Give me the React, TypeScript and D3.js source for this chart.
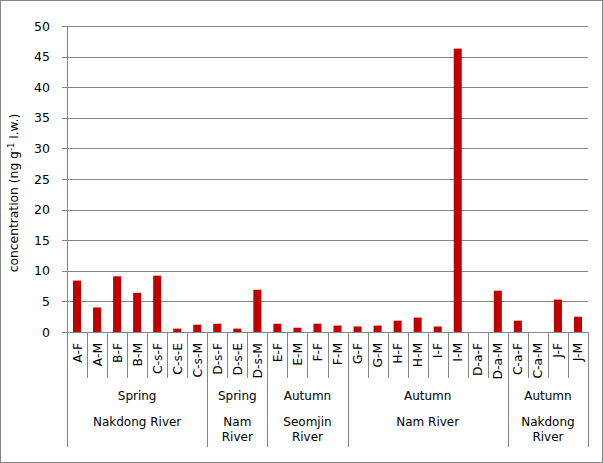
import { useEffect, useRef } from "react";
import * as d3 from "d3";

// data
const categories = [
  "A-F", "A-M", "B-F", "B-M", "C-s-F", "C-s-E", "C-s-M",
  "D-s-F", "D-s-E", "D-s-M",
  "E-F", "E-M", "F-F", "F-M",
  "G-F", "G-M", "H-F", "H-M", "I-F", "I-M", "D-a-F", "D-a-M",
  "C-a-F", "C-a-M", "J-F", "J-M",
];
const values = [
  8.4, 4.0, 9.1, 6.4, 9.2, 0.55, 1.2,
  1.35, 0.55, 6.9,
  1.35, 0.7, 1.35, 1.05,
  0.9, 1.05, 1.85, 2.35, 0.9, 46.3, 0, 6.75,
  1.85, 0, 5.3, 2.5,
];
const groupSizes = [7, 3, 4, 8, 4];
const groupSeasons = ["Spring", "Spring", "Autumn", "Autumn", "Autumn"];
const groupRivers = [
  ["Nakdong River"],
  ["Nam", "River"],
  ["Seomjin", "River"],
  ["Nam River"],
  ["Nakdong", "River"],
];
const yTicks = [0, 5, 10, 15, 20, 25, 30, 35, 40, 45, 50];

const W = 603;
const H = 463;
const FONT = "Verdana, 'DejaVu Sans', sans-serif";
const GRID = "#868686";

export default function App() {
  const ref = useRef<SVGSVGElement>(null);

  useEffect(() => {
    if (!ref.current) return;
    const svg = d3.select(ref.current);
    svg.selectAll("*").remove();

    const m = { top: 26, right: 15, bottom: 131, left: 67 };
    const w = W - m.left - m.right;
    const h = H - m.top - m.bottom;

    const x = d3.scaleBand().domain(categories).range([0, w]).paddingInner(0.6).paddingOuter(0.3);
    const y = d3.scaleLinear().domain([0, 50]).range([h, 0]);
    const step = x.step();

    // outer frame
    svg.append("rect")
      .attr("x", 0.5).attr("y", 0.5)
      .attr("width", W - 1).attr("height", H - 1)
      .attr("fill", "#fff").attr("stroke", GRID);

    const g = svg.append("g").attr("transform", `translate(${m.left},${m.top})`);

    // grid + y axis
    g.append("g")
      .call(d3.axisLeft(y).tickValues(yTicks).tickSize(-w).tickFormat(() => ""))
      .call((a) => {
        a.select(".domain").remove();
        a.selectAll("line").attr("stroke", GRID).attr("shape-rendering", "crispEdges");
      });
    g.append("g")
      .call(d3.axisLeft(y).tickValues(yTicks).tickSize(5).tickPadding(12))
      .call((a) => {
        a.select(".domain").attr("stroke", GRID).attr("shape-rendering", "crispEdges");
        a.selectAll("line").attr("stroke", GRID).attr("shape-rendering", "crispEdges");
        a.selectAll("text")
          .attr("font-size", 12.5)
          .attr("font-family", FONT)
          .attr("fill", "#000");
      });

    // y title
    const title = g.append("text")
      .attr("transform", `translate(-49,${h / 2 + 14}) rotate(-90)`)
      .attr("text-anchor", "middle")
      .attr("font-size", 12.3)
      .attr("font-family", FONT)
      .attr("fill", "#000");
    title.append("tspan").text("concentration  (ng g");
    title.append("tspan").attr("dy", -4).attr("font-size", 8.5).text("-1");
    title.append("tspan").attr("dy", 4).text(" l.w.)");

    // bars
    g.selectAll("rect.bar")
      .data(categories)
      .join("rect")
      .attr("class", "bar")
      .attr("x", (d) => x(d)!)
      .attr("y", (_, i) => y(values[i]))
      .attr("width", x.bandwidth())
      .attr("height", (_, i) => h - y(values[i]))
      .attr("fill", "#C00000");

    // x baseline
    g.append("line")
      .attr("x1", 0).attr("x2", w)
      .attr("y1", h + 0.5).attr("y2", h + 0.5)
      .attr("stroke", GRID);

    // category labels
    categories.forEach((c, i) => {
      const cx = i * step + step / 2;
      g.append("text")
        .attr("transform", `translate(${cx + 4.5},${h + 11}) rotate(-90)`)
        .attr("text-anchor", "end")
        .attr("font-size", 12.3)
        .attr("font-family", FONT)
        .attr("fill", "#000")
        .text(c);
    });

    // separators
    const boundaries = new Set<number>();
    let acc = 0;
    boundaries.add(0);
    groupSizes.forEach((s) => {
      acc += s;
      boundaries.add(acc);
    });
    for (let i = 0; i <= categories.length; i++) {
      const xx = Math.round(i * step) + 0.5;
      g.append("line")
        .attr("x1", xx).attr("x2", xx)
        .attr("y1", h).attr("y2", h + (boundaries.has(i) ? 115 : 46))
        .attr("stroke", GRID);
    }

    // group labels
    let start = 0;
    groupSizes.forEach((s, gi) => {
      const cx = (start + s / 2) * step;
      g.append("text")
        .attr("x", cx).attr("y", h + 68)
        .attr("text-anchor", "middle")
        .attr("font-size", 12)
        .attr("font-family", FONT)
        .attr("fill", "#000")
        .text(groupSeasons[gi]);
      groupRivers[gi].forEach((line, li) => {
        g.append("text")
          .attr("x", cx).attr("y", h + 94 + li * 15)
          .attr("text-anchor", "middle")
          .attr("font-size", 12)
          .attr("font-family", FONT)
          .attr("fill", "#000")
          .text(line);
      });
      start += s;
    });
  }, []);

  return (
    <svg
      ref={ref}
      width={W}
      height={H}
      style={{ position: "absolute", left: 0, top: 0 }}
    />
  );
}
